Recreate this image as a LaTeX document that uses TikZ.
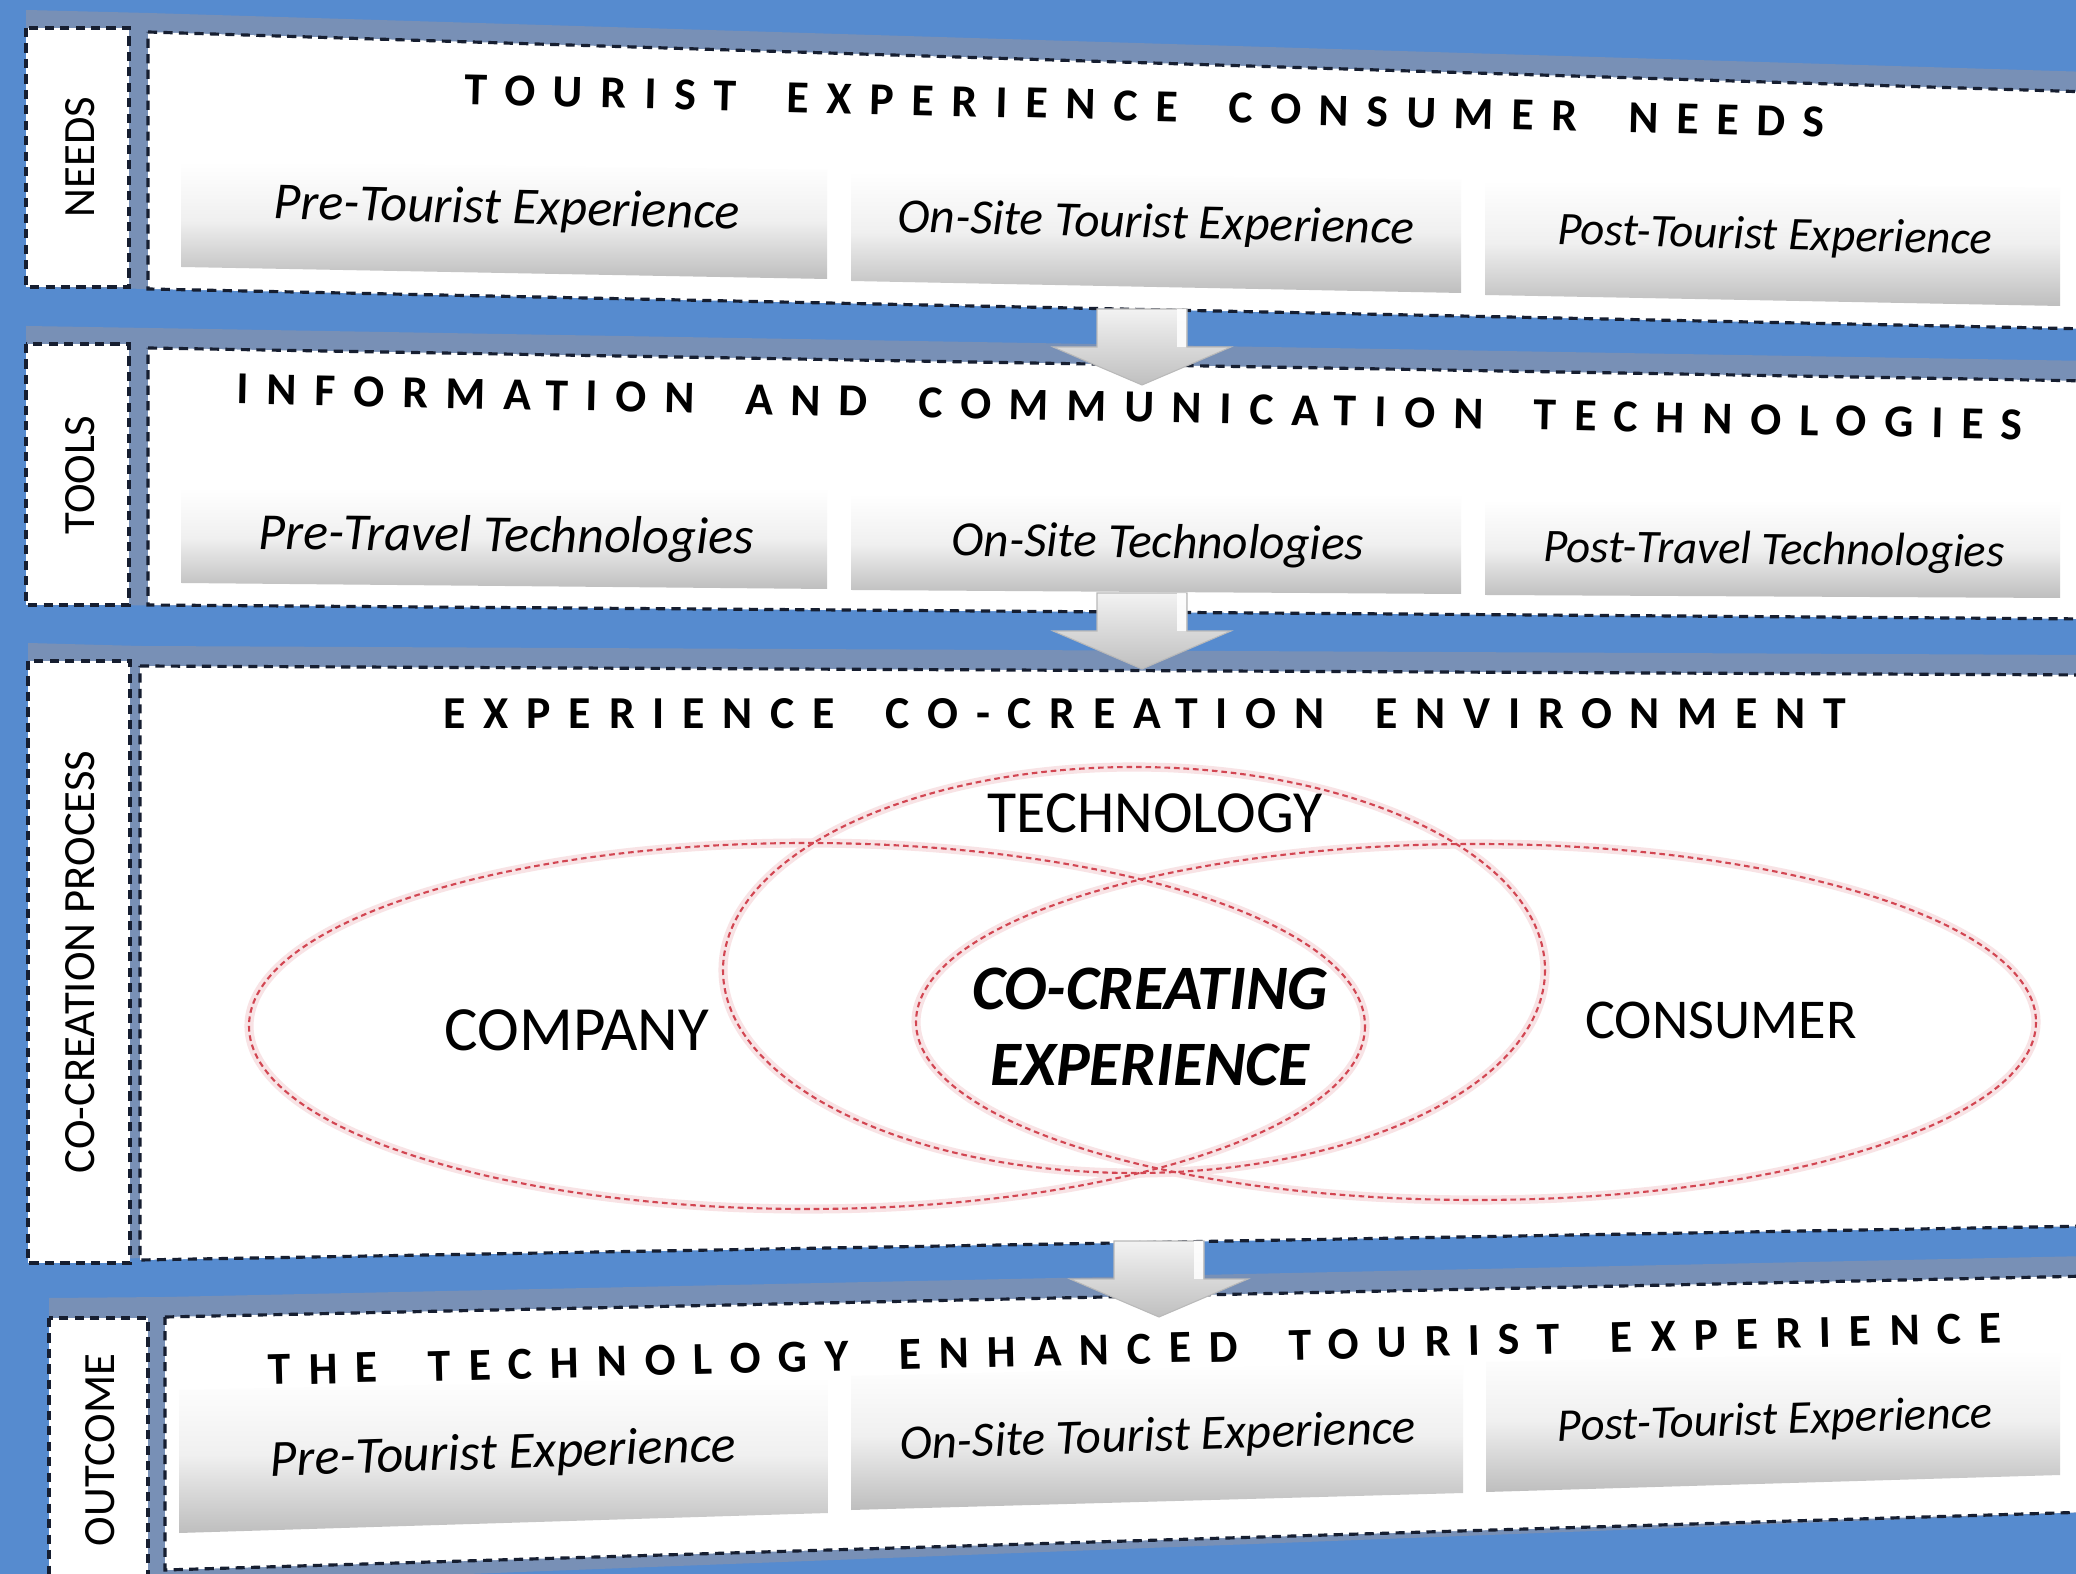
\documentclass[tikz,border=0pt]{standalone}
\usepackage{fontspec}
\setmainfont{Carlito}
\newfontfamily\spacedfont[LetterSpace=39, WordSpace=1.8]{Carlito}

\definecolor{slideblue}{RGB}{86,139,207}
\definecolor{shadowblue}{RGB}{120,144,182}
\definecolor{dashnavy}{RGB}{22,30,48}
\definecolor{ovalred}{RGB}{210,70,82}
\definecolor{tabgray}{RGB}{190,190,190}

\tikzset{
	panel/.style={fill=white, draw=dashnavy, line width=0.9pt, dash pattern=on 2.6pt off 1.8pt},
	rowshadow/.style={fill=shadowblue},
	tab/.style={top color=white, bottom color=tabgray, middle color=gray!12},
	tabtext/.style={font=\fontsize{#1}{16}\selectfont\itshape, inner sep=0pt},
	headline/.style={font=\spacedfont\fontsize{13}{15}\selectfont\bfseries, inner sep=0pt},
	sidelabel/.style={font=\fontsize{12.7}{14}\selectfont, rotate=90, inner sep=0pt},
	venntext/.style={font=\fontsize{#1}{20}\selectfont, inner sep=0pt},
	ovalglow/.style={draw=ovalred!15, line width=2.6pt},
	oval/.style={draw=ovalred, line width=0.6pt, dash pattern=on 1.6pt off 1.1pt},
	downarrow/.pic={
		\shade[top color=gray!10, bottom color=gray!50, draw=gray!55, line width=0.3pt] (-45,-38) -- (45,-38) -- (45,0) -- (89,0) -- (0,38) -- (-89,0) -- (-45,0) -- cycle;
		\fill[white, opacity=0.85] (35,-38) rectangle (44,0);
	}
}

\begin{document}
\begin{tikzpicture}[x=0.01cm,y=-0.01cm]
	\useasboundingbox (0,0) rectangle (2076,1574);
	\clip (0,0) rectangle (2076,1574);
	\fill[slideblue] (0,0) rectangle (2076,1574);

	\fill[rowshadow] (26,10) -- (148,13) -- (2090,72) -- (2090,320) -- (26,287) -- cycle;
	\fill[rowshadow] (26,326) -- (148,328) -- (2090,361) -- (2090,610) -- (26,605) -- cycle;
	\fill[rowshadow] (28,643) -- (140,646) -- (2090,655) -- (2090,1226) -- (28,1260) -- cycle;
	\fill[rowshadow] (49,1298) -- (165,1297) -- (2090,1256) -- (2090,1512) -- (49,1590) -- cycle;

	\draw[panel] (26,28) rectangle (129,287);
	\draw[panel] (26,344) rectangle (129,605);
	\draw[panel] (28,661) rectangle (130,1263);
	\draw[panel] (49,1318) rectangle (148,1600);

	\node[sidelabel](needs) at (80,157) {NEEDS};
	\node[sidelabel](tools) at (80,475) {TOOLS};
	\node[sidelabel](process) at (80,962) {CO-CREATION PROCESS};
	\node[sidelabel](outcome) at (100,1450) {OUTCOME};

	\filldraw[panel] (148,32) -- (2090,92) -- (2090,329) -- (148,289) -- cycle;
	\filldraw[panel] (148,348) -- (2090,381) -- (2090,619) -- (148,605) -- cycle;
	\filldraw[panel] (140,666) -- (2090,675) -- (2090,1226) -- (140,1260) -- cycle;
	\filldraw[panel] (165,1317) -- (2090,1276) -- (2090,1512) -- (165,1570) -- cycle;

	\shade[tab] (181,162) -- (827,170) -- (827,279) -- (181,267) -- cycle;
	\shade[tab] (851,172) -- (1461,180) -- (1461,293) -- (851,281) -- cycle;
	\shade[tab] (1485,180) -- (2060,188) -- (2060,306) -- (1485,295) -- cycle;

	\shade[tab] (181,488) -- (827,490) -- (827,589) -- (181,583) -- cycle;
	\shade[tab] (851,494) -- (1461,497) -- (1461,594) -- (851,590) -- cycle;
	\shade[tab] (1485,500) -- (2060,503) -- (2060,598) -- (1485,595) -- cycle;

	\shade[tab] (179,1390) -- (828,1377) -- (828,1513) -- (179,1533) -- cycle;
	\shade[tab] (851,1376) -- (1463,1362) -- (1463,1493) -- (851,1510) -- cycle;
	\shade[tab] (1486,1362) -- (2060,1350) -- (2060,1475) -- (1486,1492) -- cycle;

	\node[headline, rotate=-1.4](needstitle) at (1145,106) {TOURIST EXPERIENCE CONSUMER NEEDS};
	\node[tabtext=14.8, rotate=-1.3](pretour) at (507,210) {Pre-Tourist Experience};
	\node[tabtext=14, rotate=-1.3](onsitetour) at (1156,225) {On-Site Tourist Experience};
	\node[tabtext=13.3, rotate=-1.3](posttour) at (1775,237) {Post-Tourist Experience};

	\node[headline, rotate=-1.15](toolstitle) at (1130,407) {INFORMATION AND COMMUNICATION TECHNOLOGIES};
	\node[tabtext=14.8, rotate=-0.6](pretech) at (506,538) {Pre-Travel Technologies};
	\node[tabtext=14, rotate=-0.6](onsitetech) at (1158,545) {On-Site Technologies};
	\node[tabtext=13.3, rotate=-0.6](posttech) at (1774,552) {Post-Travel Technologies};

	\node[headline](envtitle) at (1145,714) {EXPERIENCE CO-CREATION ENVIRONMENT};

	\draw[ovalglow] (807,1026) ellipse [x radius=558, y radius=183];
	\draw[ovalglow] (1476,1022) ellipse [x radius=560, y radius=178];
	\draw[ovalglow] (1134,970) ellipse [x radius=411, y radius=203];
	\draw[oval] (807,1026) ellipse [x radius=558, y radius=183];
	\draw[oval] (1476,1022) ellipse [x radius=560, y radius=178];
	\draw[oval] (1134,970) ellipse [x radius=411, y radius=203];

	\node[venntext=17](technology) at (1155,813) {TECHNOLOGY};
	\node[venntext=17.9](company) at (577,1030) {COMPANY};
	\node[venntext=16](consumer) at (1721,1020) {CONSUMER};
	\node[venntext=18, font=\fontsize{18}{21.8}\selectfont\bfseries\itshape, align=center](cocreating) at (1150,1027) {CO-CREATING\\EXPERIENCE};

	\node[headline, rotate=1.4](outtitle) at (1135,1349) {THE TECHNOLOGY ENHANCED TOURIST EXPERIENCE};
	\node[tabtext=14.8, rotate=1.8](preout) at (503,1455) {Pre-Tourist Experience};
	\node[tabtext=14, rotate=1.8](onsiteout) at (1158,1438) {On-Site Tourist Experience};
	\node[tabtext=13.3, rotate=1.8](postout) at (1775,1422) {Post-Tourist Experience};

	\coordinate (a1) at (1142,347);
	\coordinate (a2) at (1142,631);
	\coordinate (a3) at (1159,1279);
	\pic at (a1) {downarrow};
	\pic at (a2) {downarrow};
	\pic at (a3) {downarrow};
\end{tikzpicture}
\end{document}
